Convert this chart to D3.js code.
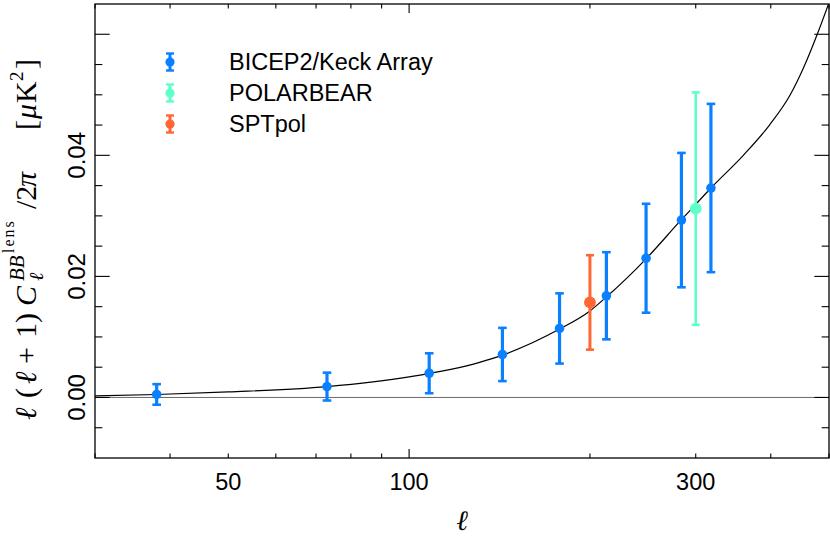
<!DOCTYPE html>
<html>
<head>
<meta charset="utf-8">
<script src="https://cdn.jsdelivr.net/npm/d3@7"></script>
<style>
body { margin: 0; background: #fff; }
svg { display: block; }
</style>
</head>
<body>
<div id="chart"></div>
<script>
// lensing BB theory curve
var lensEll = [30, 38, 50, 73, 100, 131, 143, 178, 200, 213, 248, 283, 300, 318, 360, 398, 431, 456, 478, 500];
var lensDl = [0.00026, 0.00049, 0.00092, 0.0018, 0.0034, 0.0058, 0.0070, 0.0113, 0.0143, 0.0166, 0.0229, 0.0292, 0.0319, 0.0346, 0.0400, 0.0450, 0.0500, 0.0550, 0.0600, 0.0652];

// BICEP2/Keck Array bandpowers
var bkEll = [38, 73, 108, 143, 178, 213, 248, 284, 318];
var bkDl = [0.0005, 0.0018, 0.0040, 0.0071, 0.0114, 0.0168, 0.0230, 0.0293, 0.0346];
var bkErr = [0.0017, 0.0023, 0.0033, 0.0044, 0.0058, 0.0072, 0.0090, 0.0111, 0.0139];

// POLARBEAR and SPTpol
var pbEll = [300], pbDl = [0.0312], pbErr = [0.0192];
var sptEll = [200], sptDl = [0.0157], sptErr = [0.0078];

var seriesNames = ["BICEP2/Keck Array", "POLARBEAR", "SPTpol"];
var seriesColors = ["#0a80ff", "#5fffc8", "#ff6633"];

var xMajor = [100];
var xMinor = [30, 40, 50, 60, 70, 80, 90, 200, 300, 400, 500];
var xLabels = [50, 100, 300];
var yMajor = [0, 0.02, 0.04, 0.06];
var yMinor = [-0.005, 0.005, 0.01, 0.015, 0.025, 0.03, 0.035, 0.045, 0.05, 0.055];
var yLabels = [0, 0.02, 0.04];

var W = 830, H = 541;
var margin = {top: 4, right: 1, bottom: 83, left: 95};
var width = W - margin.left - margin.right,
    height = H - margin.top - margin.bottom;
var sans = "'Liberation Sans', Arial, Helvetica, sans-serif";
var serif = "'Liberation Serif', 'DejaVu Serif', serif";

var svg = d3.select("#chart").append("svg")
    .attr("width", W)
    .attr("height", H);

var x = d3.scaleLog().domain([30, 500]).range([margin.left, margin.left + width]);
var y = d3.scaleLinear().domain([-0.01, 0.065]).range([margin.top + height, margin.top]);

svg.append("clipPath").attr("id", "plotclip")
    .append("rect")
    .attr("x", margin.left).attr("y", margin.top)
    .attr("width", width).attr("height", height);

var plot = svg.append("g").attr("clip-path", "url(#plotclip)");

// zero line
plot.append("line")
    .attr("x1", margin.left).attr("x2", margin.left + width)
    .attr("y1", y(0)).attr("y2", y(0))
    .attr("stroke", "#444").attr("stroke-width", 0.8);

// theory curve
var line = d3.line()
    .x(function (d, i) { return x(lensEll[i]); })
    .y(function (d) { return y(d); })
    .curve(d3.curveMonotoneX);

plot.append("path")
    .attr("d", line(lensDl))
    .attr("fill", "none")
    .attr("stroke", "#000")
    .attr("stroke-width", 1.2);

function drawSeries(ells, vals, errs, color, r, sw, cap) {
    var g = plot.append("g");
    ells.forEach(function (l, i) {
        var cx = x(l), lo = y(vals[i] - errs[i]), hi = y(vals[i] + errs[i]);
        g.append("line").attr("x1", cx).attr("x2", cx).attr("y1", lo).attr("y2", hi)
            .attr("stroke", color).attr("stroke-width", sw);
        [lo, hi].forEach(function (yy) {
            g.append("line").attr("x1", cx - cap).attr("x2", cx + cap).attr("y1", yy).attr("y2", yy)
                .attr("stroke", color).attr("stroke-width", 2.6);
        });
        g.append("circle").attr("cx", cx).attr("cy", y(vals[i])).attr("r", r).attr("fill", color);
    });
}

drawSeries(bkEll, bkDl, bkErr, seriesColors[0], 4.8, 3.2, 4.3);
drawSeries(pbEll, pbDl, pbErr, seriesColors[1], 5.9, 2.6, 4);
drawSeries(sptEll, sptDl, sptErr, seriesColors[2], 5.9, 3, 4);

// frame and ticks
svg.append("rect")
    .attr("x", margin.left).attr("y", margin.top)
    .attr("width", width).attr("height", height)
    .attr("fill", "none").attr("stroke", "#000").attr("stroke-width", 1.3);

var ticks = svg.append("g").attr("stroke", "#000").attr("stroke-width", 1.1);
var xt = height * 0.02, yt = width * 0.02;
function xTick(v, len) {
    ticks.append("line").attr("x1", x(v)).attr("x2", x(v))
        .attr("y1", margin.top + height).attr("y2", margin.top + height - len);
    ticks.append("line").attr("x1", x(v)).attr("x2", x(v))
        .attr("y1", margin.top).attr("y2", margin.top + len);
}
function yTick(v, len) {
    ticks.append("line").attr("x1", margin.left).attr("x2", margin.left + len)
        .attr("y1", y(v)).attr("y2", y(v));
    ticks.append("line").attr("x1", margin.left + width).attr("x2", margin.left + width - len)
        .attr("y1", y(v)).attr("y2", y(v));
}
xMajor.forEach(function (v) { xTick(v, xt); });
xMinor.forEach(function (v) { xTick(v, xt / 2); });
yMajor.forEach(function (v) { yTick(v, yt); });
yMinor.forEach(function (v) { yTick(v, yt / 2); });

// tick labels
svg.selectAll(".xlab").data(xLabels).enter().append("text")
    .attr("x", function (d) { return x(d); })
    .attr("y", 490)
    .attr("text-anchor", "middle")
    .style("font-family", sans).style("font-size", "23.5px")
    .text(function (d) { return d; });

svg.selectAll(".ylab").data(yLabels).enter().append("text")
    .attr("transform", function (d) { return "translate(85," + y(d) + ") rotate(-90)"; })
    .attr("text-anchor", "middle")
    .style("font-family", sans).style("font-size", "24px")
    .text(function (d) { return d3.format(".2f")(d); });

// x axis title
svg.append("text")
    .attr("x", 462).attr("y", 530)
    .attr("text-anchor", "middle")
    .style("font-family", serif).style("font-style", "italic").style("font-size", "28px")
    .text("ℓ");

// y axis title, built piece by piece
var yt2 = svg.append("g").attr("transform", "translate(36,420) rotate(-90)")
    .style("font-family", serif).attr("fill", "#000");
function piece(str, at, opt) {
    opt = opt || {};
    yt2.append("text")
        .attr("x", at).attr("y", opt.dy || 0)
        .style("font-size", (opt.size || 30) + "px")
        .style("font-style", opt.italic ? "italic" : "normal")
        .style("letter-spacing", (opt.ls || 0) + "px")
        .text(str);
}
piece("ℓ", 0, {italic: true});
piece("(", 22);
piece("ℓ", 36, {italic: true});
piece("+", 56);
piece("1", 82);
piece(")", 97);
piece("C", 114, {italic: true});
piece("BB", 139, {italic: true, size: 21, dy: -12});
piece("lens", 167, {size: 16, dy: -22, ls: 2});
piece("ℓ", 139, {italic: true, size: 20, dy: 7});
piece("/2", 211);
piece("π", 233, {italic: true});
piece("[", 290);
piece("μ", 301, {italic: true});
piece("K", 317);
piece("2", 339, {size: 19, dy: -13});
piece("]", 351);

// legend
var legend = svg.append("g");
seriesNames.forEach(function (name, i) {
    var ly = 62 + i * 31;
    var c = seriesColors[i];
    legend.append("line").attr("x1", 170).attr("x2", 170).attr("y1", ly - 8.5).attr("y2", ly + 8.5)
        .attr("stroke", c).attr("stroke-width", 3);
    [ly - 8.5, ly + 8.5].forEach(function (yy) {
        legend.append("line").attr("x1", 166).attr("x2", 174).attr("y1", yy).attr("y2", yy)
            .attr("stroke", c).attr("stroke-width", 2.4);
    });
    legend.append("circle").attr("cx", 170).attr("cy", ly).attr("r", 4.6).attr("fill", c);
    legend.append("text")
        .attr("x", 229).attr("y", ly + 7.5)
        .style("font-family", sans).style("font-size", "23.5px")
        .text(name);
});
</script>
</body>
</html>
